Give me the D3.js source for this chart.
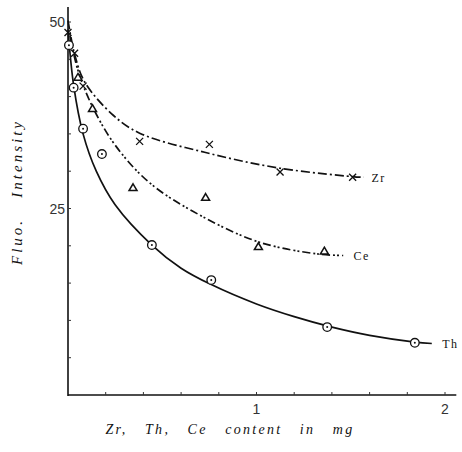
<!DOCTYPE html>
<html>
<head>
<meta charset="utf-8">
<script src="https://cdn.jsdelivr.net/npm/d3@7"></script>
<style>
body { margin: 0; background: #fff; }
svg text { fill: #111; }
.lbl { font-family: "Liberation Serif", "DejaVu Serif", serif; font-style: italic; }
.tick { font-family: "Liberation Sans", "DejaVu Sans", sans-serif; font-size: 14px; fill: #333; }
</style>
</head>
<body>
<svg id="chart" width="462" height="452"></svg>
<script>
// measured points (mg, intensity)
var thX = [0.005, 0.03, 0.08, 0.18, 0.445, 0.76, 1.375, 1.84]
var thY = [46.9, 41.2, 35.7, 32.3, 20.1, 15.4, 9.1, 7.0]
var zrX = [0.0, 0.035, 0.08, 0.38, 0.75, 1.125, 1.51]
var zrY = [48.6, 45.8, 41.4, 34.0, 33.6, 29.9, 29.2]
var ceX = [0.053, 0.13, 0.345, 0.73, 1.01, 1.36]
var ceY = [42.6, 38.4, 27.8, 26.5, 19.9, 19.3]

// hand-drawn fitted curves
var thFitX = [0, 0.03, 0.08, 0.15, 0.25, 0.445, 0.6, 0.76, 1.0, 1.2, 1.4, 1.6, 1.84, 1.93]
var thFitY = [49, 41.5, 35, 30, 25.5, 20.1, 17.0, 14.8, 12.2, 10.5, 9.1, 8.0, 7.1, 6.9]
var zrFitX = [0, 0.037, 0.09, 0.24, 0.38, 0.73, 1.125, 1.55, 1.57]
var zrFitY = [50.2, 45.5, 41.9, 37.5, 35.1, 32.5, 30.4, 29.2, 29.2]
var ceFitX = [0.01, 0.053, 0.127, 0.25, 0.435, 0.70, 1.013, 1.326, 1.46]
var ceFitY = [48.2, 43.5, 38.8, 33.5, 28.4, 24.1, 20.5, 18.9, 18.7]

var yTickLabels = [25, 50]
var xTickLabels = [1, 2]

var svg = d3.select("#chart")
var x = d3.scaleLinear().domain([0, 2]).range([68, 445])
var y = d3.scaleLinear().domain([0, 50]).range([395, 22])

function zip(a, b) { return a.map(function(v, i) { return [v, b[i]]; }); }

/* axes */
svg.append("line").attr("x1", x(0)).attr("x2", x(0)).attr("y1", y(52)).attr("y2", y(0) + 1)
    .attr("stroke", "#111").attr("stroke-width", 1.6)
svg.append("line").attr("x1", x(0)).attr("x2", x(2.06)).attr("y1", y(0)).attr("y2", y(0))
    .attr("stroke", "#111").attr("stroke-width", 1.4)

svg.append("g").selectAll("line").data(d3.range(5, 51, 5)).enter().append("line")
    .attr("x1", x(0)).attr("x2", x(0) + 3)
    .attr("y1", function(d) { return y(d); }).attr("y2", function(d) { return y(d); })
    .attr("stroke", "#333").attr("stroke-width", 1)
svg.append("g").selectAll("line").data(d3.range(1, 11).map(function(i) { return i * 0.2; })).enter().append("line")
    .attr("x1", function(d) { return x(d); }).attr("x2", function(d) { return x(d); })
    .attr("y1", y(0)).attr("y2", y(0) - 3)
    .attr("stroke", "#333").attr("stroke-width", 1)

svg.append("g").selectAll("text").data(yTickLabels).enter().append("text")
    .attr("class", "tick")
    .attr("x", x(0) - 3).attr("y", function(d) { return y(d) + 5; })
    .attr("text-anchor", "end")
    .text(function(d) { return d; })
svg.append("g").selectAll("text").data(xTickLabels).enter().append("text")
    .attr("class", "tick")
    .attr("x", function(d) { return x(d); }).attr("y", y(0) + 19)
    .attr("text-anchor", "middle")
    .text(function(d) { return d; })

/* axis titles */
svg.append("text").attr("class", "lbl")
    .attr("transform", "translate(22," + 192 + ") rotate(-90)")
    .attr("text-anchor", "middle")
    .attr("font-size", 15).attr("letter-spacing", 3)
    .attr("xml:space", "preserve")
    .text("Fluo.   Intensity")
svg.append("text").attr("class", "lbl")
    .attr("x", 230).attr("y", 434)
    .attr("text-anchor", "middle")
    .attr("font-size", 14).attr("letter-spacing", 2.3)
    .attr("xml:space", "preserve")
    .text("Zr,   Th,   Ce   content   in   mg")

/* curves */
var line = d3.line()
    .x(function(d) { return x(d[0]); })
    .y(function(d) { return y(d[1]); })
    .curve(d3.curveCatmullRom.alpha(0.5))

svg.append("path").datum(zip(thFitX, thFitY)).attr("d", line)
    .attr("fill", "none").attr("stroke", "#111").attr("stroke-width", 1.7)
svg.append("path").datum(zip(zrFitX, zrFitY)).attr("d", line)
    .attr("fill", "none").attr("stroke", "#111").attr("stroke-width", 1.7)
    .attr("stroke-dasharray", "9,3,2,3")
svg.append("path").datum(zip(ceFitX, ceFitY)).attr("d", line)
    .attr("fill", "none").attr("stroke", "#111").attr("stroke-width", 1.7)
    .attr("stroke-dasharray", "8,3,2,2,2,3")

/* markers */
var th = svg.append("g").selectAll("g").data(zip(thX, thY)).enter().append("g")
    .attr("transform", function(d) { return "translate(" + x(d[0]) + "," + y(d[1]) + ")"; })
th.append("circle").attr("r", 4.3).attr("fill", "#fff").attr("stroke", "#111").attr("stroke-width", 1.3)
th.append("circle").attr("r", 1).attr("fill", "#111")

svg.append("g").selectAll("path").data(zip(zrX, zrY)).enter().append("path")
    .attr("transform", function(d) { return "translate(" + x(d[0]) + "," + y(d[1]) + ")"; })
    .attr("d", "M-3.5,-3.5L3.5,3.5M-3.5,3.5L3.5,-3.5")
    .attr("stroke", "#111").attr("stroke-width", 1.3)

svg.append("g").selectAll("path").data(zip(ceX, ceY)).enter().append("path")
    .attr("transform", function(d) { return "translate(" + x(d[0]) + "," + y(d[1]) + ")"; })
    .attr("d", "M0,-3.8L4,3L-4,3Z")
    .attr("fill", "#fff").attr("stroke", "#111").attr("stroke-width", 1.5)

/* series labels */
var seriesLabels = [["Zr", 1.61, 29.1], ["Ce", 1.515, 18.6], ["Th", 1.985, 6.9]]
svg.append("g").selectAll("text").data(seriesLabels).enter().append("text")
    .attr("x", function(d) { return x(d[1]); }).attr("y", function(d) { return y(d[2]) + 4; })
    .attr("font-family", "Liberation Serif, serif").attr("font-size", 12)
    .attr("letter-spacing", 1.5)
    .text(function(d) { return d[0]; })
</script>
</body>
</html>
